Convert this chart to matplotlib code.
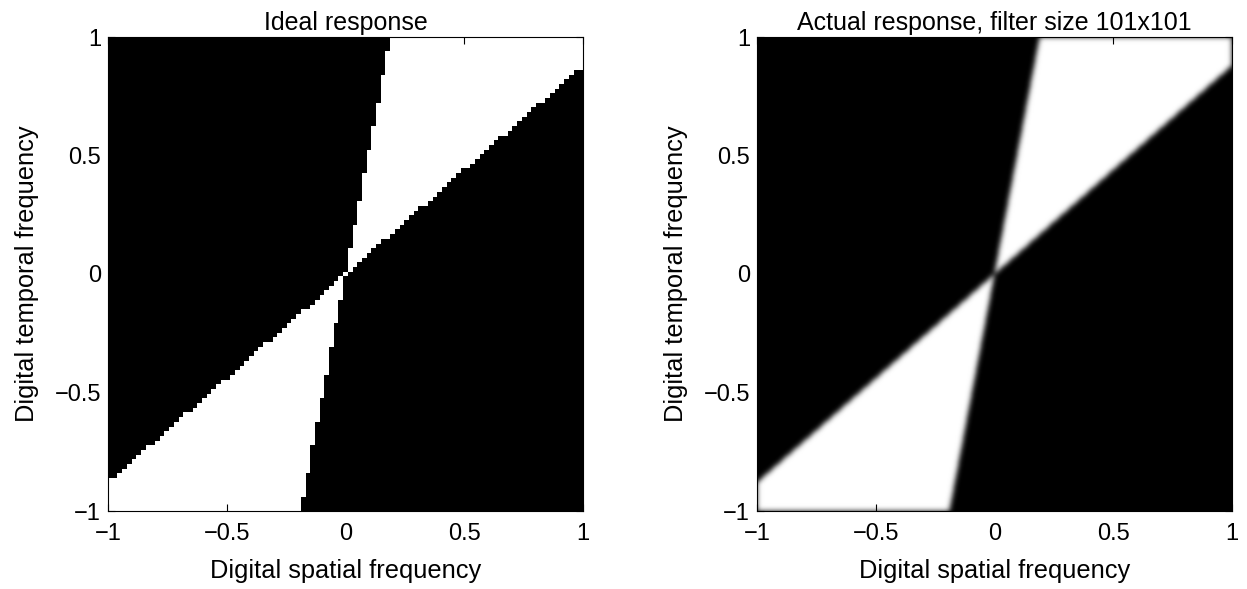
import numpy as np
import matplotlib.pyplot as plt

plt.rcParams['font.family'] = ['Liberation Sans', 'DejaVu Sans']

# pass band edges (temporal/spatial slope)
slope_low = 0.88
slope_high = 5.26
n_ideal = 101
n_actual = 401
blur_sigma = 2.2   # in samples of the fine grid

titles = ['Ideal response', 'Actual response, filter size 101x101']
xlabel = 'Digital spatial frequency'
ylabel = 'Digital temporal frequency'
ticks = [-1, -0.5, 0, 0.5, 1]
tick_labels = ['\u22121', '\u22120.5', '0', '0.5', '1']


def fan_mask(n):
    f = np.linspace(-1, 1, n)
    fx, fy = np.meshgrid(f, f)
    with np.errstate(divide='ignore', invalid='ignore'):
        r = fy / fx
    m = (r >= slope_low) & (r <= slope_high)
    m[(fx == 0) & (fy == 0)] = True
    return m.astype(float)


def gauss_blur(img, s):
    # zero padded, so the borders go a bit grey like the real filter output
    w = int(4 * s)
    k = np.arange(-w, w + 1)
    g = np.exp(-k ** 2 / (2 * s * s))
    g /= g.sum()
    out = np.apply_along_axis(lambda r: np.convolve(r, g, mode='same'), 1, img)
    out = np.apply_along_axis(lambda c: np.convolve(c, g, mode='same'), 0, out)
    return out


ideal = fan_mask(n_ideal)
actual = gauss_blur(fan_mask(n_actual), blur_sigma)

fig = plt.figure(figsize=(12.47, 5.89), dpi=100)
pos = [[108 / 1247, 78 / 589, 475 / 1247, 474 / 589],
       [757 / 1247, 78 / 589, 475 / 1247, 474 / 589]]

for p, img, title, interp in zip(pos, [ideal, actual], titles, ['nearest', 'bilinear']):
    ax = fig.add_axes(p)
    ax.imshow(img, cmap='gray', vmin=0, vmax=1, origin='lower',
              extent=[-1, 1, -1, 1], aspect='auto', interpolation=interp)
    ax.set_xlim(-1, 1)
    ax.set_ylim(-1, 1)
    ax.set_xticks(ticks)
    ax.set_xticklabels(tick_labels)
    ax.set_yticks(ticks)
    ax.set_yticklabels(tick_labels)
    ax.tick_params(direction='in', top=True, right=True, length=5, width=0.8, labelsize=17)
    ax.tick_params(axis='x', pad=9)
    ax.tick_params(axis='y', pad=5)
    ax.set_title(title, fontsize=18, pad=5)
    ax.set_xlabel(xlabel, fontsize=18.3, labelpad=10)
    ax.set_ylabel(ylabel, fontsize=18.3, labelpad=11)

plt.savefig('out.png', dpi=100)
